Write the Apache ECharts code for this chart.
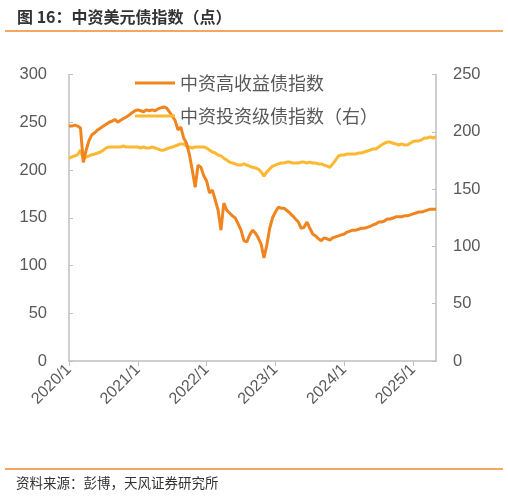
<!DOCTYPE html>
<html>
<head>
<meta charset="utf-8">
<script src="https://cdn.jsdelivr.net/npm/echarts@6/dist/echarts.min.js"></script>
<style>
  html, body { margin: 0; padding: 0; background: #fff; }
  #chart { width: 508px; height: 498px; }
</style>
</head>
<body>
<div id="chart"></div>
<script>
// 半月频日期，2020/1/1 ~ 2025/5/1
var dates = [];
for (var y = 2020; y <= 2025; y++) {
  for (var m = 1; m <= 12; m++) {
    if (y === 2025 && m > 5) break;
    dates.push(y + '/' + m + '/1');
    if (y === 2025 && m === 5) break;
    dates.push(y + '/' + m + '/16');
  }
}

// 中资高收益债指数（左轴）
var hyData = [
  246, 246, 247, 246, 244, 208, 221, 231, 237, 239,
  242, 244, 246, 248, 250, 251, 253, 250, 252, 254,
  255.5, 257.5, 260, 262, 263, 262, 261, 263, 262, 263,
  262, 264, 265, 266, 265, 261, 256.5, 252, 242, 245,
  233.5, 228, 216, 200, 182, 205, 203, 194, 188.5, 176,
  179, 168.6, 158, 137, 165.4, 158, 155, 152, 149.7, 143.5,
  137, 126, 124.6, 132, 137, 134, 129, 122.5, 108, 121.5,
  139, 150, 156, 161, 160, 160, 157.6, 155, 152, 148.7,
  145.5, 139, 140, 145.5, 139, 133, 131, 128, 126, 129,
  128, 126.7, 129, 130, 131, 132, 133, 135, 136, 137,
  137, 138, 139, 139, 140, 141, 142.4, 143.5, 145.5, 145.5,
  146.6, 148.7, 148.7, 149.7, 151, 151, 151, 152, 152, 153,
  154, 155, 156, 156, 157, 158, 159, 159, 159
];

// 中资投资级债指数（右轴）
var igData = [
  177, 178, 179, 180, 184, 176, 178, 179, 180, 180.6,
  181.5, 182.4, 184, 186, 186.7, 186.7, 186.7, 186.7, 186.7, 187.6,
  186.7, 186.7, 186.7, 186.7, 186.7, 185.9, 186.7, 185.9, 185.9, 186.7,
  185.9, 185, 184, 184, 185, 185.9, 186.7, 187.6, 188.5, 189.4,
  189.4, 187.6, 186.7, 185.9, 186.7, 186.7, 186.7, 186.7, 185.9, 184,
  182.4, 181.5, 179.8, 179, 177, 175.4, 173.6, 172.8, 172, 171,
  171, 172, 171, 170, 169, 168.4, 167.5, 165, 161.4, 165,
  167.5, 170, 171, 172, 172.8, 172.8, 173.6, 173.6, 172.8, 172.8,
  172.8, 173.6, 173.6, 172.8, 173.6, 172.8, 172.8, 172, 172, 171,
  170, 169, 172, 175.4, 179, 179.8, 179.8, 180.6, 180.6, 180.6,
  180.6, 181.5, 181.5, 182.4, 183.2, 184, 185, 185, 186.7, 188.5,
  190, 191, 191, 190, 189.4, 188.5, 189.4, 188.5, 188.5, 190,
  191.5, 192, 192, 193, 194.6, 194.6, 195.5, 194.6, 195.5
];

var seriesNames = ['中资高收益债指数', '中资投资级债指数（右）'];

var chart = echarts.init(document.getElementById('chart'));
var fontFam = 'Liberation Sans, Noto Sans CJK SC, sans-serif';
var cjkFam = 'Noto Sans CJK SC, sans-serif';

var isYearStart = function (idx, val) {
  return /\/1\/1$/.test(val);
};

var option = {
  animation: false,
  textStyle: { fontFamily: fontFam },
  title: {
    text: '图 16：中资美元债指数（点）',
    left: 12,
    top: 4,
    textStyle: { fontSize: 16, fontWeight: 'bold', color: '#333', fontFamily: cjkFam }
  },
  graphic: [
    { type: 'line', shape: { x1: 5, y1: 31, x2: 503, y2: 31 }, style: { stroke: '#F08A2B', lineWidth: 1.5 } },
    { type: 'line', shape: { x1: 5, y1: 469, x2: 503, y2: 469 }, style: { stroke: '#F08A2B', lineWidth: 1.5 } },
    { type: 'text', left: 16, top: 476, style: { text: '资料来源：彭博，天风证券研究所', fontSize: 13.5, fill: '#333', fontFamily: cjkFam } }
  ],
  legend: {
    orient: 'vertical',
    left: 135,
    top: 74,
    padding: 0,
    icon: 'rect',
    itemWidth: 40,
    itemHeight: 3,
    itemGap: 15,
    textStyle: { fontSize: 18, color: '#595959', fontFamily: cjkFam },
    data: seriesNames
  },
  grid: { left: 69, right: 72, top: 74.5, bottom: 137 },
  xAxis: {
    type: 'category',
    data: dates,
    boundaryGap: false,
    axisLine: { lineStyle: { color: '#bfbfbf', width: 1.5 } },
    axisTick: { interval: isYearStart, length: 5, lineStyle: { color: '#bfbfbf' } },
    axisLabel: {
      interval: isYearStart,
      rotate: 45,
      fontSize: 16,
      color: '#595959',
      margin: 6,
      formatter: function (val) { return val.replace(/\/1$/, ''); }
    },
    splitLine: { show: false }
  },
  yAxis: [
    {
      type: 'value', min: 0, max: 300, interval: 50,
      axisLine: { show: true, lineStyle: { color: '#bfbfbf', width: 1.5 } },
      axisTick: { show: true, inside: true, length: 4, lineStyle: { color: '#bfbfbf' } },
      axisLabel: { fontSize: 16.5, color: '#595959', margin: 22 },
      splitLine: { show: false }
    },
    {
      type: 'value', min: 0, max: 250, interval: 50,
      axisLine: { show: true, lineStyle: { color: '#bfbfbf', width: 1.5 } },
      axisTick: { show: true, inside: true, length: 4, lineStyle: { color: '#bfbfbf' } },
      axisLabel: { fontSize: 16.5, color: '#595959', margin: 17 },
      splitLine: { show: false }
    }
  ],
  series: [
    {
      name: seriesNames[0],
      type: 'line',
      yAxisIndex: 0,
      data: hyData,
      symbol: 'none',
      lineStyle: { color: '#F0841F', width: 3 },
      itemStyle: { color: '#F0841F' },
      z: 3
    },
    {
      name: seriesNames[1],
      type: 'line',
      yAxisIndex: 1,
      data: igData,
      symbol: 'none',
      lineStyle: { color: '#FBB832', width: 3 },
      itemStyle: { color: '#FBB832' },
      z: 2
    }
  ]
};

chart.setOption(option);
window.addEventListener('resize', function () {
  chart.resize();
});
</script>
</body>
</html>
